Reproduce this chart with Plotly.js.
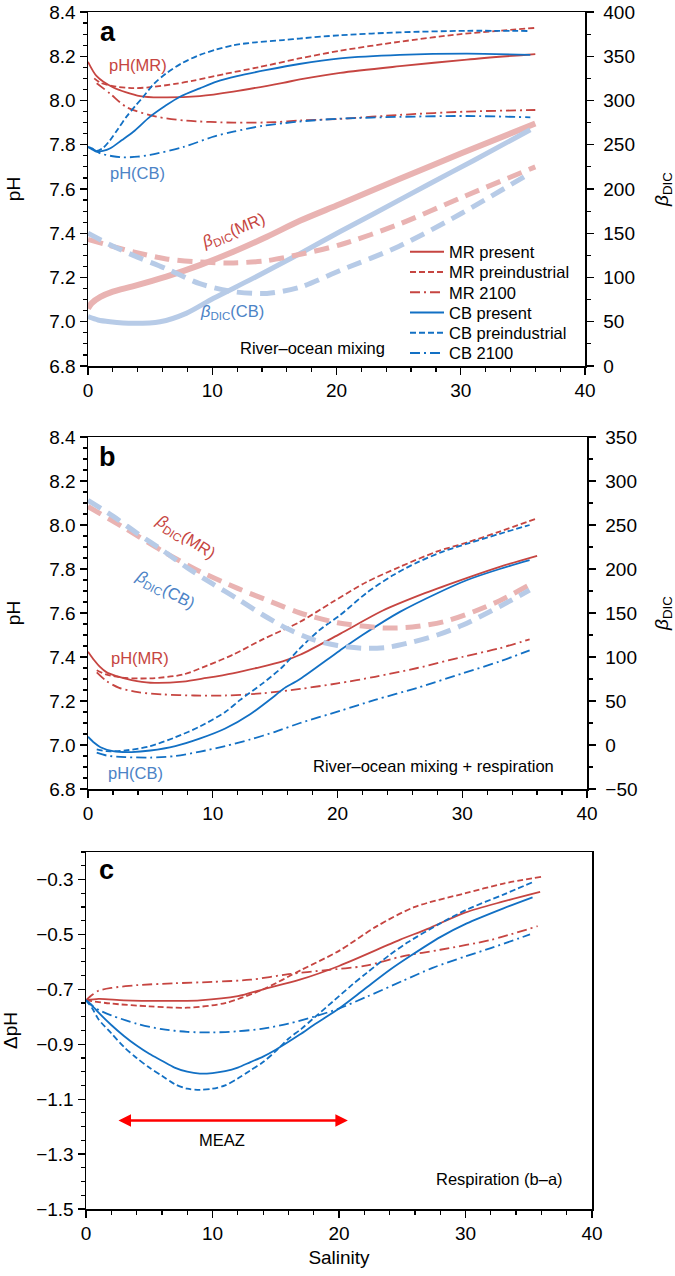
<!DOCTYPE html>
<html><head><meta charset="utf-8">
<script src="https://cdn.plot.ly/plotly-3.0.1.min.js"></script>
<style>html,body{margin:0;padding:0;background:#fff}</style>
</head><body><div id="chart" style="width:675px;height:1276px"></div>
<script>
// ---------- Panel a : river-ocean mixing ----------
const a_MRpres_S  = [0,0.7,2,4.2,5.8,9,11.7,15.7,17.05,20.3,25.1,30.5,36];
const a_MRpres_pH = [8.175,8.11,8.06,8.02,8.014,8.02,8.04,8.08,8.095,8.125,8.155,8.185,8.21];
const a_MRpre_S   = [0.5,1,2,3.5,5,7,8.5,11,13.7,17,20.3,25,30,36];
const a_MRpre_pH  = [8.10,8.08,8.065,8.056,8.06,8.075,8.09,8.12,8.15,8.19,8.225,8.265,8.30,8.328];
const a_MR2100_S  = [0.7,1.8,3.1,5.5,7.9,11.7,15,17.1,20.3,25.1,30.5,36];
const a_MR2100_pH = [8.078,8.03,7.97,7.927,7.909,7.90,7.902,7.91,7.917,7.935,7.95,7.957];
const a_CBpres_S  = [0,0.3,0.6,1.2,1.8,2.7,3.65,5,6.2,7.4,9,10.35,12,14.4,17,20.3,25.1,30.5,35.6];
const a_CBpres_pH = [7.79,7.78,7.77,7.772,7.784,7.82,7.859,7.927,7.975,8.017,8.055,8.085,8.11,8.138,8.165,8.19,8.206,8.212,8.206];
const a_CBpre_S   = [0,0.3,0.7,1.2,1.77,2.4,3.1,3.8,4.45,5.3,6.3,7.6,9,10.3,11.7,13.5,15.7,17,20.3,25.1,30.5,35.6];
const a_CBpre_pH  = [7.79,7.784,7.772,7.785,7.82,7.87,7.927,7.975,8.017,8.075,8.123,8.17,8.206,8.23,8.25,8.263,8.273,8.28,8.295,8.308,8.315,8.314];
const a_CB2100_S  = [0.3,1,2,2.85,4,5,7.7,10,11.7,14,15.7,17,20.3,25.1,30.5,35.6];
const a_CB2100_pH = [7.784,7.761,7.748,7.743,7.746,7.754,7.79,7.835,7.859,7.885,7.897,7.905,7.918,7.926,7.93,7.924];
const a_bMRsol_S  = [0,0.3,1,2,3.6,6.3,9,11.7,14.4,17.05,20.3,25,30,36];
const a_bMRsol_v  = [65,71,78,84,90,101,114,129,146,164,183,211,240,274];
const a_bCBsol_S  = [0,0.8,1.77,3.65,5.8,7.9,10.1,13,15.7,17.05,20.3,23,27.5,31,35.6];
const a_bCBsol_v  = [55.7,52,50,48.2,50,59.5,76.5,97,117,127,152,172,206,232,267];
const a_bMRdash_S = [0,1.5,3.65,6.3,9,11.7,14.4,17,20.3,25,30,36];
const a_bMRdash_v = [143,137,129,121,117.5,116.5,119,126,137,160,190,225];
const a_bCBdash_S = [0,1.77,3.65,6.3,9,11.7,14.4,17.05,20.3,25,30,35.6];
const a_bCBdash_v = [150,137,125,110,93,84,82,89,108,135,172,218];

// ---------- Panel b : mixing + respiration ----------
const b_MRpres_S  = [0,0.5,0.94,1.5,2.3,3.5,5,7.6,9.5,11.6,13.5,15.6,17,20.2,23.6,27,30.4,33,36];
const b_MRpres_pH = [7.424,7.385,7.356,7.33,7.313,7.295,7.283,7.288,7.305,7.326,7.35,7.38,7.41,7.505,7.61,7.69,7.76,7.81,7.86];
const b_MRpre_S   = [0.7,1.5,3,5,7.6,9.5,11.6,14,17,19.6,22.3,25,28,30.35,33,36];
const b_MRpre_pH  = [7.34,7.32,7.305,7.303,7.32,7.36,7.41,7.48,7.56,7.65,7.74,7.81,7.88,7.92,7.97,8.03];
const b_MR2100_S  = [0.7,1.5,2.5,4,6,8.5,11,14,17,20,23,26.4,30,33,35.4];
const b_MR2100_pH = [7.33,7.29,7.26,7.24,7.23,7.225,7.225,7.235,7.255,7.28,7.31,7.35,7.40,7.44,7.48];
const b_CBpres_S  = [0,0.5,1,2,3.5,5,7,9,11,13,15,15.65,17,20.2,22,25,28,30.4,33,35.4];
const b_CBpres_pH = [7.038,7.01,6.99,6.972,6.968,6.975,6.995,7.03,7.075,7.14,7.225,7.255,7.30,7.43,7.50,7.605,7.69,7.75,7.80,7.84];
const b_CBpre_S   = [0.7,1.5,3,5,7,9,11,12.2,14,15.5,17,18.5,20.2,22.3,24.4,26.4,28.5,30.4,33,35.4];
const b_CBpre_pH  = [6.98,6.972,6.975,6.995,7.035,7.085,7.15,7.205,7.28,7.35,7.44,7.52,7.59,7.69,7.77,7.83,7.88,7.915,7.96,8.0];
const b_CB2100_S  = [0.7,1.5,3,5,7,9,11,13,15,17,20.2,23,26.4,30,33,35.4];
const b_CB2100_pH = [6.965,6.952,6.945,6.943,6.95,6.97,6.995,7.025,7.06,7.10,7.155,7.205,7.26,7.325,7.38,7.43];
const b_bMRdash_S = [0,3,6,9,12,15,17,20,23.7,26,28.5,31,33,35.4];
const b_bMRdash_v = [271,246,220,197,178,161,150,139,133,134,140,152,164,182];
const b_bCBdash_S = [0,2,4,6,8,10,12,14,16,18,20,22,24,26,28,30,32,34,35.4];
const b_bCBdash_v = [278,260,240,221,201,183,166,148,132,120,113,110,111,117,125,136,150,165,176];

// ---------- Panel c : respiration (b - a) ----------
const c_MRpres_S  = [0,1,3,6,9,12,14,16.9,20,24.8,27,30,33,35.9];
const c_MRpres_d  = [-0.74,-0.735,-0.74,-0.742,-0.74,-0.725,-0.70,-0.665,-0.615,-0.52,-0.48,-0.42,-0.38,-0.345];
const c_MRpre_S   = [0,2,5,8,11,14,17,20,23,26,30,33,36];
const c_MRpre_d   = [-0.74,-0.752,-0.762,-0.767,-0.75,-0.70,-0.63,-0.56,-0.47,-0.40,-0.35,-0.315,-0.29];
const c_MR2100_S  = [0,0.5,1,2,4,7,10,13,16,19,22,25,28,32,35.7];
const c_MR2100_d  = [-0.74,-0.72,-0.705,-0.695,-0.685,-0.678,-0.673,-0.665,-0.645,-0.63,-0.615,-0.58,-0.556,-0.52,-0.47];
const c_CBpres_S  = [0,0.5,1,2,3,4,5,6,7,8,9,10,11,12,13,14,15,16.9,18,20,22,24,25.6,28,30.1,33,35.3];
const c_CBpres_d  = [-0.74,-0.76,-0.785,-0.83,-0.87,-0.905,-0.935,-0.96,-0.985,-1.0,-1.007,-1.005,-0.998,-0.985,-0.965,-0.945,-0.92,-0.865,-0.83,-0.77,-0.70,-0.63,-0.58,-0.51,-0.46,-0.405,-0.365];
const c_CBpre_S   = [0,0.5,1,2,3,4,5,6,7,8,9,10,11,12,13,14,15,16,17,18,19.5,21,22.2,24,25.4,28,30.1,33,35.3];
const c_CBpre_d   = [-0.74,-0.77,-0.81,-0.86,-0.91,-0.95,-0.985,-1.015,-1.045,-1.062,-1.066,-1.062,-1.05,-1.025,-0.995,-0.965,-0.925,-0.88,-0.845,-0.805,-0.745,-0.685,-0.64,-0.575,-0.53,-0.46,-0.41,-0.355,-0.31];
const c_CB2100_S  = [0,0.5,1,2,4,6,8,10,12,14,16,18,20,22.2,25,27.4,30,32,35.1];
const c_CB2100_d  = [-0.74,-0.76,-0.775,-0.795,-0.825,-0.845,-0.855,-0.857,-0.853,-0.843,-0.825,-0.80,-0.77,-0.727,-0.67,-0.622,-0.58,-0.55,-0.50];
const meazFrom = 2.45, meazTo = 20.7, meazLevel = -1.178;

const seriesNames = ['MR present','MR preindustrial','MR 2100','CB present','CB preindustrial','CB 2100'];

// ---------- styles ----------
const RED = '#c64541', BLUE = '#1270c4', LRED = '#e9b3b2', LBLUE = '#b7cbe7';
const RED_TXT = '#c64541', BLUE_TXT = '#4c83c6';
const DASH = '6px,3px', DASHDOT = '10px,4px,2px,4px', TDASH = '15px,8px';
const FONT = 'Liberation Sans, Arial, Helvetica, sans-serif';

function tr(x, y, xa, ya, color, width, dash, name, legendIdx) {
  const t = {type:'scatter', mode:'lines', x:x, y:y, xaxis:xa, yaxis:ya, name:name||'',
    showlegend:legendIdx !== undefined, hoverinfo:'skip',
    line:{color:color, width:width, dash:dash||'solid', shape:'spline', smoothing:0.8}};
  if (legendIdx !== undefined) t.legend = legendIdx === 0 ? 'legend' : 'legend' + (legendIdx + 1);
  return t;
}
const data = [
  tr(a_bMRsol_S, a_bMRsol_v, 'x','y2', LRED, 6),
  tr(a_bCBsol_S, a_bCBsol_v, 'x','y2', LBLUE, 5),
  tr(a_bMRdash_S, a_bMRdash_v, 'x','y2', LRED, 5, TDASH),
  tr(a_bCBdash_S, a_bCBdash_v, 'x','y2', LBLUE, 5, TDASH),
  tr(a_MRpres_S, a_MRpres_pH, 'x','y', RED, 1.8, 'solid', seriesNames[0], 0),
  tr(a_MRpre_S, a_MRpre_pH, 'x','y', RED, 1.8, DASH, seriesNames[1], 1),
  tr(a_MR2100_S, a_MR2100_pH, 'x','y', RED, 1.8, DASHDOT, seriesNames[2], 2),
  tr(a_CBpres_S, a_CBpres_pH, 'x','y', BLUE, 1.8, 'solid', seriesNames[3], 3),
  tr(a_CBpre_S, a_CBpre_pH, 'x','y', BLUE, 1.8, DASH, seriesNames[4], 4),
  tr(a_CB2100_S, a_CB2100_pH, 'x','y', BLUE, 1.8, DASHDOT, seriesNames[5], 5),
  tr(b_bMRdash_S, b_bMRdash_v, 'x2','y4', LRED, 5, TDASH),
  tr(b_bCBdash_S, b_bCBdash_v, 'x2','y4', LBLUE, 5, TDASH),
  tr(b_MRpres_S, b_MRpres_pH, 'x2','y3', RED, 1.8, 'solid'),
  tr(b_MRpre_S, b_MRpre_pH, 'x2','y3', RED, 1.8, DASH),
  tr(b_MR2100_S, b_MR2100_pH, 'x2','y3', RED, 1.8, DASHDOT),
  tr(b_CBpres_S, b_CBpres_pH, 'x2','y3', BLUE, 1.8, 'solid'),
  tr(b_CBpre_S, b_CBpre_pH, 'x2','y3', BLUE, 1.8, DASH),
  tr(b_CB2100_S, b_CB2100_pH, 'x2','y3', BLUE, 1.8, DASHDOT),
  tr(c_MRpres_S, c_MRpres_d, 'x3','y5', RED, 1.8, 'solid'),
  tr(c_MRpre_S, c_MRpre_d, 'x3','y5', RED, 1.8, DASH),
  tr(c_MR2100_S, c_MR2100_d, 'x3','y5', RED, 1.8, DASHDOT),
  tr(c_CBpres_S, c_CBpres_d, 'x3','y5', BLUE, 1.8, 'solid'),
  tr(c_CBpre_S, c_CBpre_d, 'x3','y5', BLUE, 1.8, DASH),
  tr(c_CB2100_S, c_CB2100_d, 'x3','y5', BLUE, 1.8, DASHDOT)
];

const W = 675, H = 1276;
const px = v => v / W, py = v => 1 - v / H;
const tickFont = {family:FONT, size:19, color:'#000'};
function xax(l, r, anchor) {
  return {domain:[px(l), px(r)], anchor:anchor, range:[0,40], tick0:0, dtick:10,
    ticks:'outside', ticklen:7, tickwidth:1.3, tickcolor:'#000',
    minor:{dtick:2, tick0:0, ticks:'outside', ticklen:4, tickwidth:1.2, tickcolor:'#000'},
    showline:true, linewidth:1.5, linecolor:'#000', mirror:true,
    showgrid:false, zeroline:false, tickfont:tickFont, fixedrange:true};
}
function yax(t, b, anchor, range, dtick, mdtick, title, mirror) {
  return {domain:[py(b), py(t)], anchor:anchor, range:range, tick0:range[0], dtick:dtick,
    ticks:'outside', ticklen:7, tickwidth:1.3, tickcolor:'#000', tickformat:'.1f',
    minor:{dtick:mdtick, tick0:range[0], ticks:'outside', ticklen:4, tickwidth:1.2, tickcolor:'#000'},
    showline:true, linewidth:1.5, linecolor:'#000', mirror:mirror,
    showgrid:false, zeroline:false, tickfont:tickFont, fixedrange:true,
    title:{text:title, font:{family:FONT, size:19, color:'#000'}, standoff:23}};
}
function yright(t, b, anchor, over, range) {
  return {domain:[py(b), py(t)], anchor:anchor, overlaying:over, side:'right', range:range,
    tick0:range[0], dtick:50, ticks:'outside', ticklen:7, tickwidth:1.3, tickcolor:'#000',
    minor:{dtick:25, tick0:range[0], ticks:'outside', ticklen:4, tickwidth:1.2, tickcolor:'#000'},
    showline:true, linewidth:1.5, linecolor:'#000', showgrid:false, zeroline:false,
    tickfont:tickFont, fixedrange:true, ticklabelstandoff:6,
    title:{text:'<i>β</i><sub>DIC</sub>', font:{family:FONT, size:19, color:'#000'}, standoff:42}};
}

function txt(x, y, xr, yr, text, opts) {
  return Object.assign({x:x, y:y, xref:xr, yref:yr, text:text, showarrow:false,
    font:{family:FONT, size:16.5, color:'#000'}}, opts||{});
}
const redF = {family:FONT, size:16.5, color:RED_TXT}, blueF = {family:FONT, size:16.5, color:BLUE_TXT};
const bold = {family:FONT, size:27, color:'#000'};
const annotations = [
  txt(1.6, 8.31, 'x','y', '<b>a</b>', {font:bold}),
  txt(4.0, 8.16, 'x','y', 'pH(MR)', {font:redF}),
  txt(4.0, 7.672, 'x','y', 'pH(CB)', {font:blueF}),
  txt(11.7, 7.41, 'x','y', '<i>β</i><sub>DIC</sub>(MR)', {font:redF, textangle:-22}),
  txt(11.6, 7.045, 'x','y', '<i>β</i><sub>DIC</sub>(CB)', {font:blueF}),
  txt(12.07, 6.881, 'x','y', 'River–ocean mixing', {xanchor:'left'}),
  txt(1.6, 8.31, 'x2','y3', '<b>b</b>', {font:bold}),
  txt(7.8, 7.945, 'x2','y3', '<i>β</i><sub>DIC</sub>(MR)', {font:redF, textangle:33}),
  txt(6.2, 7.705, 'x2','y3', '<i>β</i><sub>DIC</sub>(CB)', {font:blueF, textangle:28}),
  txt(4.2, 7.395, 'x2','y3', 'pH(MR)', {font:redF}),
  txt(3.8, 6.873, 'x2','y3', 'pH(CB)', {font:blueF}),
  txt(17.9, 6.905, 'x2','y3', 'River–ocean mixing + respiration', {xanchor:'left'}),
  txt(1.6, -0.265, 'x3','y5', '<b>c</b>', {font:bold}),
  txt(10.75, -1.247, 'x3','y5', 'MEAZ'),
  txt(37.9, -1.389, 'x3','y5', 'Respiration (b–a)', {xanchor:'right'}),
  {x:meazTo, y:meazLevel, ax:meazFrom, ay:meazLevel, xref:'x3', yref:'y5', axref:'x3', ayref:'y5',
   text:'', showarrow:true, arrowside:'end+start', arrowhead:2, startarrowhead:2,
   arrowsize:1, startarrowsize:1, arrowwidth:2.5, arrowcolor:'#ff0000', standoff:0, startstandoff:0}
];

const xc = xax(86, 592, 'y5');
xc.title = {text:'Salinity', font:{family:FONT, size:19, color:'#000'}, standoff:7};
const yc = yax(852, 1209, 'x3', [-1.5, -0.2], 0.2, 0.05, 'ΔpH', true);
yc.tick0 = -1.5;
yc.title.standoff = 16;
const layout = {
  width:W, height:H, margin:{l:0, r:0, t:0, b:0},
  paper_bgcolor:'#fff', plot_bgcolor:'rgba(0,0,0,0)',
  font:{family:FONT, color:'#000'},
  xaxis: xax(88, 585, 'y'),
  yaxis: yax(12, 366, 'x', [6.8, 8.4], 0.2, 0.05, 'pH', false),
  yaxis2: yright(12, 366, 'x', 'y', [0, 400]),
  xaxis2: xax(88, 587, 'y3'),
  yaxis3: yax(437, 789, 'x2', [6.8, 8.4], 0.2, 0.05, 'pH', false),
  yaxis4: yright(437, 789, 'x2', 'y3', [-50, 350]),
  xaxis3: xc,
  yaxis5: yc,
  showlegend:true,
  annotations: annotations
};
// one legend box per row so the rows keep the reference's tight spacing
const legendRow0 = 252, legendRowGap = 20.25;
seriesNames.forEach((n, i) => {
  layout[i === 0 ? 'legend' : 'legend' + (i + 1)] = {
    x:px(405), y:py(legendRow0 + i * legendRowGap), xanchor:'left', yanchor:'middle',
    bgcolor:'rgba(0,0,0,0)', borderwidth:0, font:{family:FONT, size:16.5, color:'#000'}, itemwidth:34};
});
Plotly.newPlot('chart', data, layout, {staticPlot:true});
</script></body></html>
